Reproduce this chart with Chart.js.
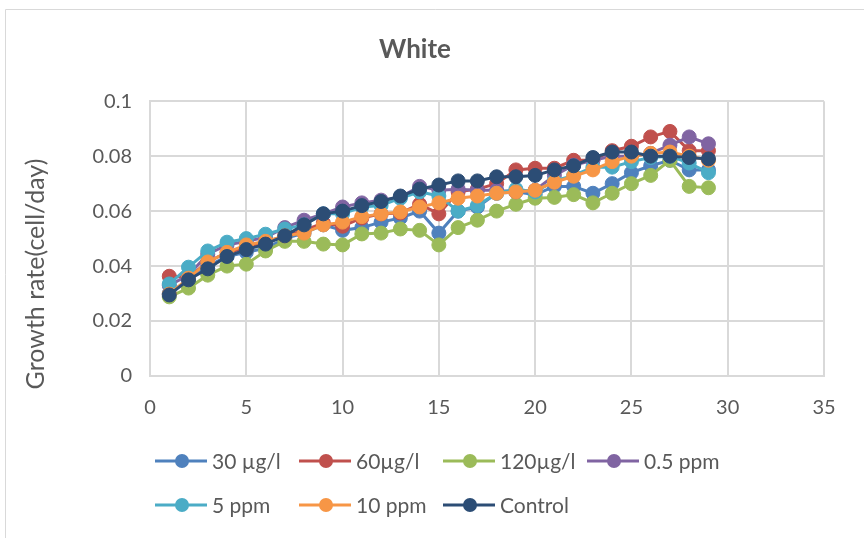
<!DOCTYPE html>
<html>
<head>
<meta charset="utf-8">
<script src="https://cdn.jsdelivr.net/npm/chart.js@4.4.0/dist/chart.umd.min.js"></script>
<style>
  html, body { margin: 0; padding: 0; background: #fff; }
  #wrap { width: 864px; height: 538px; }
</style>
</head>
<body>
<div id="wrap"><canvas id="growth" width="864" height="538"></canvas></div>
<script>
const days = [1,2,3,4,5,6,7,8,9,10,11,12,13,14,15,16,17,18,19,20,21,22,23,24,25,26,27,28,29];

const s30ug = [0.030,0.035,0.040,0.0435,0.045,0.0465,0.050,0.052,0.055,0.053,0.054,0.056,0.0575,0.060,0.052,0.060,0.0615,0.0665,0.067,0.066,0.069,0.069,0.0665,0.070,0.074,0.0765,0.0785,0.075,0.075];
const s60ug = [0.0363,0.036,0.0415,0.045,0.0465,0.0487,0.051,0.053,0.0557,0.0545,0.0575,0.059,0.0593,0.0625,0.059,0.067,0.068,0.070,0.075,0.0756,0.0756,0.0785,0.0785,0.082,0.0836,0.087,0.089,0.082,0.082];
const s120ug = [0.0288,0.032,0.0367,0.040,0.0407,0.0455,0.049,0.049,0.048,0.0477,0.0517,0.052,0.0535,0.053,0.0477,0.054,0.0567,0.060,0.0625,0.0647,0.065,0.066,0.063,0.0665,0.070,0.073,0.0785,0.069,0.0685];
const s05ppm = [0.033,0.0367,0.0443,0.0477,0.049,0.0505,0.054,0.0567,0.059,0.0615,0.063,0.064,0.065,0.069,0.0676,0.068,0.0676,0.0676,0.067,0.0676,0.073,0.0767,0.0785,0.080,0.080,0.081,0.084,0.087,0.0845];
const s5ppm = [0.0335,0.0396,0.0455,0.0487,0.050,0.0516,0.0535,0.055,0.059,0.059,0.0615,0.062,0.0647,0.067,0.0655,0.060,0.062,0.0665,0.068,0.067,0.071,0.073,0.076,0.076,0.078,0.0795,0.080,0.0775,0.074];
const s10ppm = [0.0298,0.0356,0.0415,0.045,0.0477,0.049,0.051,0.052,0.055,0.056,0.058,0.059,0.0597,0.0615,0.063,0.0647,0.0655,0.0665,0.067,0.0676,0.0705,0.0727,0.075,0.078,0.080,0.081,0.0815,0.080,0.0785];
const control = [0.0295,0.035,0.039,0.0435,0.046,0.048,0.051,0.055,0.059,0.060,0.062,0.0635,0.0655,0.068,0.0695,0.071,0.071,0.0725,0.0725,0.073,0.075,0.0765,0.0795,0.0815,0.0815,0.080,0.080,0.0795,0.079];

const seriesNames = ['30 \u00b5g/l', '60\u00b5g/l', '120\u00b5g/l', '0.5 ppm', '5 ppm', '10 ppm', 'Control'];
const seriesData = [s30ug, s60ug, s120ug, s05ppm, s5ppm, s10ppm, control];
const seriesColors = ['#4F81BD', '#C0504D', '#9BBB59', '#8064A2', '#4BACC6', '#F79646', '#2C4D75'];
const yTitle = 'Growth rate(cell/day)';

const FONT = 'Lato, "Open Sans", sans-serif';
const TXT = '#595959';
const GRID = '#d9d9d9';

const datasets = seriesData.map((vals, i) => ({
    label: seriesNames[i],
    data: vals.map((v, k) => ({x: days[k], y: v})),
    borderColor: seriesColors[i],
    backgroundColor: seriesColors[i],
    pointBackgroundColor: seriesColors[i],
    pointBorderColor: seriesColors[i],
    borderWidth: 3,
    pointRadius: 7,
    pointBorderWidth: 1,
    tension: 0,
    order: seriesData.length - i
}));

// outer frame, y title (Excel puts it a bit low) and the two-row legend grid
const frameAndLegend = {
    id: 'frameAndLegend',
    beforeDraw(chart) {
        const c = chart.ctx;
        c.save();
        c.strokeStyle = GRID;
        c.lineWidth = 1;
        c.beginPath();
        c.moveTo(5.5, 540);
        c.lineTo(5.5, 9.5);
        c.lineTo(870, 9.5);
        c.stroke();
        c.restore();
    },
    afterDraw(chart) {
        const c = chart.ctx;
        c.save();
        c.translate(36, 274);
        c.rotate(-Math.PI / 2);
        c.font = '25px ' + FONT;
        c.fillStyle = TXT;
        c.textAlign = 'center';
        c.textBaseline = 'middle';
        c.fillText(yTitle, 0, 0);
        c.restore();

        c.save();
        c.font = '21px ' + FONT;
        c.textBaseline = 'middle';
        chart.data.datasets.forEach((ds, i) => {
            const col = i % 4, row = Math.floor(i / 4);
            const x = 155 + col * 144;
            const y = 461 + row * 44;
            c.strokeStyle = ds.borderColor;
            c.lineWidth = 3;
            c.beginPath();
            c.moveTo(x, y);
            c.lineTo(x + 52, y);
            c.stroke();
            c.fillStyle = ds.borderColor;
            c.beginPath();
            c.arc(x + 27, y, 7, 0, Math.PI * 2);
            c.fill();
            c.fillStyle = TXT;
            c.fillText(ds.label, x + 57, y + 1);
        });
        c.restore();
    }
};

const ctx = document.getElementById('growth').getContext('2d');
const growthChart = new Chart(ctx, {
    type: 'line',
    data: { datasets: datasets },
    options: {
        responsive: false,
        animation: false,
        layout: { padding: { left: 6, right: 40, top: 0, bottom: 120 } },
        plugins: {
            legend: { display: false },
            tooltip: { enabled: false },
            title: {
                display: true,
                text: 'White',
                color: TXT,
                font: { family: FONT, size: 26, weight: 'bold' },
                padding: { top: 34, bottom: 36 }
            }
        },
        scales: {
            x: {
                type: 'linear',
                min: 0,
                max: 35,
                ticks: { stepSize: 5, color: TXT, font: { family: FONT, size: 20 }, padding: 20 },
                grid: { color: GRID, lineWidth: 2, drawTicks: false },
                border: { color: GRID, width: 2 },
                afterFit(scale) { scale.height = 42; }
            },
            y: {
                min: 0,
                max: 0.1,
                ticks: { stepSize: 0.02, color: TXT, font: { family: FONT, size: 20 }, padding: 18,
                    callback: v => (v === 0 ? '0' : String(+v.toFixed(2))) },
                grid: { color: GRID, lineWidth: 2, drawTicks: false },
                border: { color: GRID, width: 2 },
                afterFit(scale) { scale.width = 144; }
            }
        }
    },
    plugins: [frameAndLegend]
});
</script>
</body>
</html>
